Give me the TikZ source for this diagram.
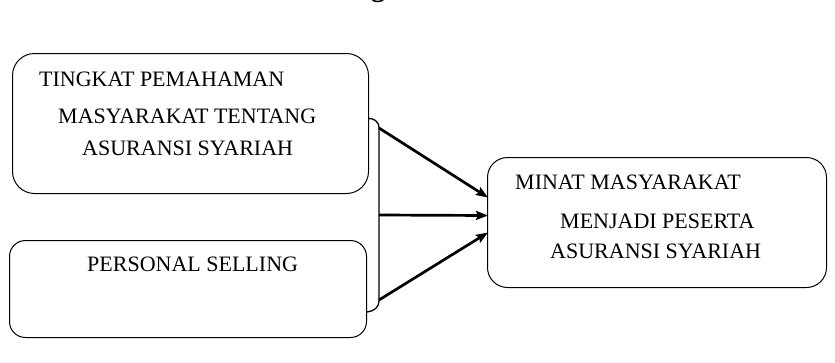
\documentclass[tikz,border=0pt]{standalone}
\usepackage{fontspec}
\setmainfont{Liberation Serif}
\usetikzlibrary{arrows.meta,calc}
\begin{document}
\begin{tikzpicture}[x=1pt,y=-1pt,
  box/.style={draw,line width=1pt,rounded corners=#1,anchor=north west,inner sep=0pt},
  lbl/.style={anchor=base west,inner sep=0pt,font=\fontsize{22}{26}\selectfont},
  brk/.style={line width=1.3pt},
  arr/.style={line width=2.7pt,-{Stealth[length=12pt,width=9pt,inset=2pt]}}]
\fill[white] (0,0) rectangle (835,362);
\useasboundingbox (0,0) rectangle (835,362);
% cut-off title
\node[anchor=base,inner sep=0pt,font=\fontsize{28}{30}\selectfont\bfseries] (ttl) at (378,-3.5) {g};
% boxes
\node[box=22pt,minimum width=356pt,minimum height=140pt] (b1) at (12,53) {};
\node[box=16pt,minimum width=357pt,minimum height=97pt] (b2) at (9,240) {};
\node[box=20pt,minimum width=339pt,minimum height=130pt] (b3) at (487,157) {};
% texts
\node[lbl] (t1a) at (39,86) {TINGKAT PEMAHAMAN};
\node[lbl] (t1b) at (58,123) {MASYARAKAT TENTANG};
\node[lbl] (t1c) at (82,155) {ASURANSI SYARIAH};
\node[lbl] (t2a) at (87,271) {PERSONAL SELLING};
\node[lbl] (t3a) at (515,189) {MINAT MASYARAKAT};
\node[lbl] (t3b) at (560,228) {MENJADI PESERTA};
\node[lbl] (t3c) at (550,258) {ASURANSI SYARIAH};
% bracket
\coordinate (ct) at (379,128);
\coordinate (cm) at (379,215);
\coordinate (cb) at (379,300);
\draw[brk] ($(b1.east)+(-1,-5)$) .. controls (373,118) and (379,121) .. (ct) -- (cb)
  .. controls (379,308) and (374,311) .. ($(b2.east)+(0,23)$);
% arrows
\draw[arr] (ct) -- ($(b3.west)+(1,-25)$);
\draw[arr] (cm) -- ($(b3.west)+(1,-7)$);
\draw[arr] (cb) -- ($(b3.west)+(1,10)$);
\end{tikzpicture}
\end{document}
